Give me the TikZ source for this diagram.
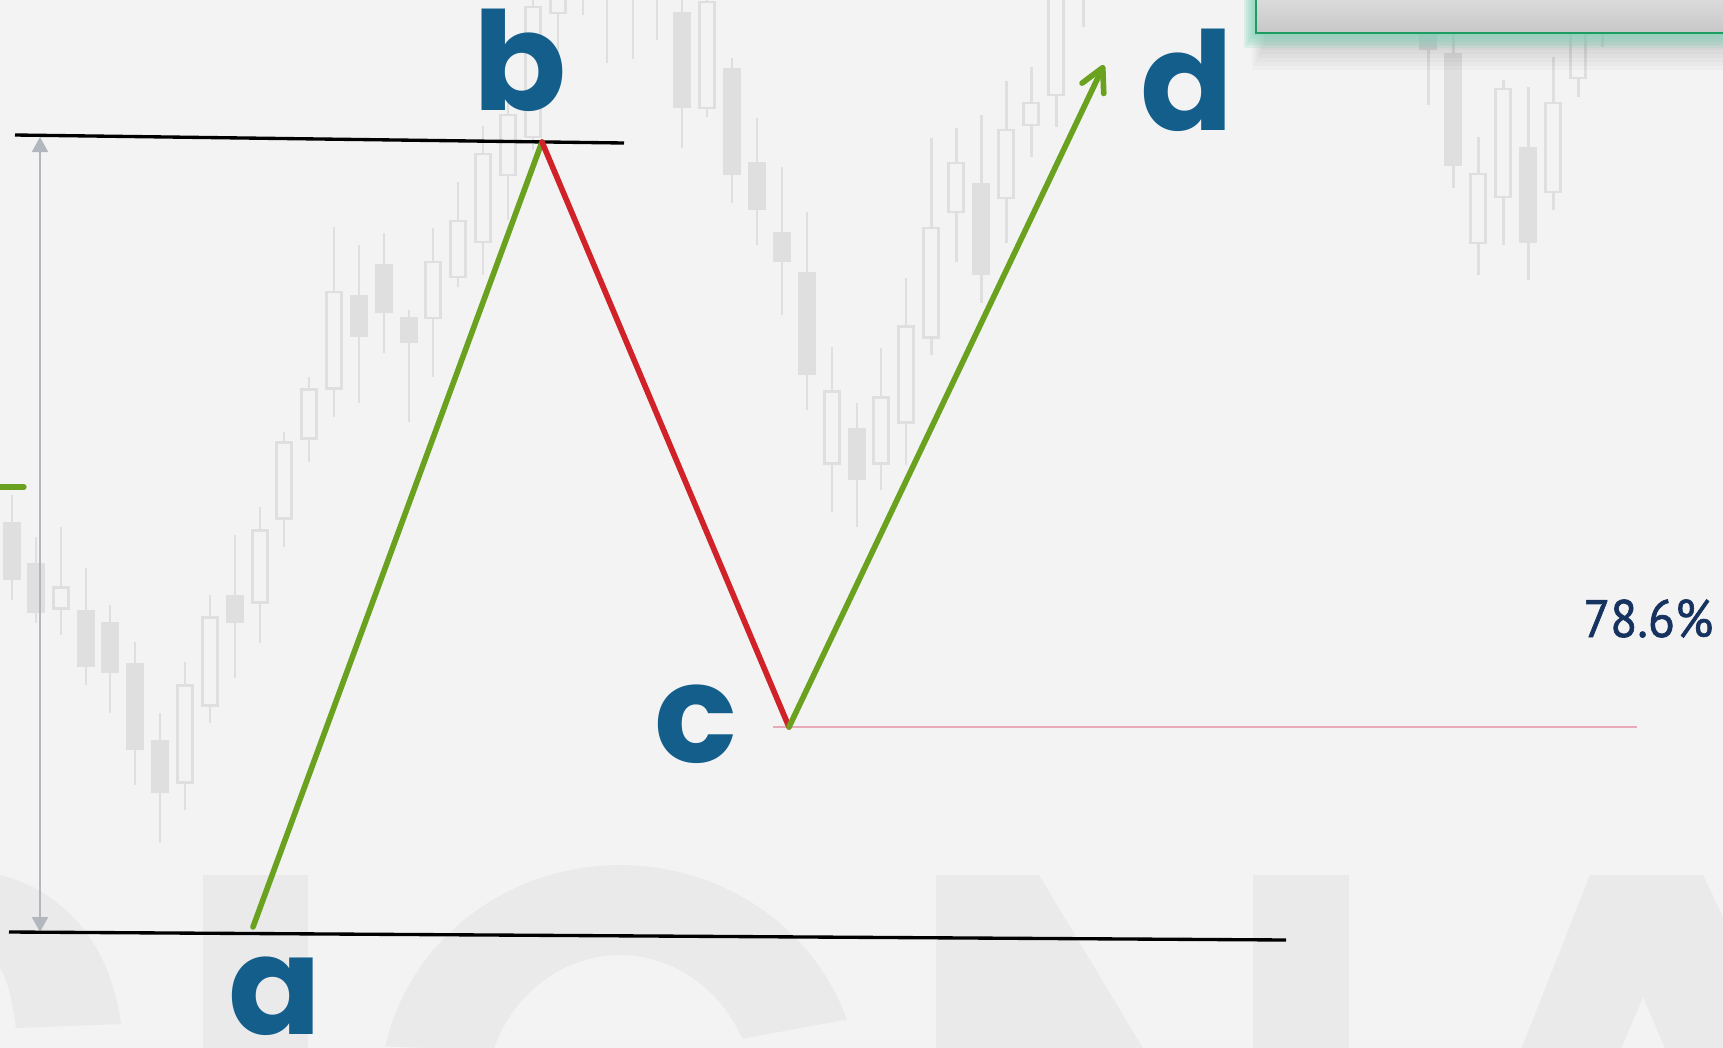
\documentclass[tikz,border=0pt]{standalone}
\usepackage{fontspec}
\usepackage{xcolor}
\usepackage{tikz}
\usetikzlibrary{arrows.meta,positioning}
\newfontfamily\legfont{Poppins}
\newfontfamily\pctfont{PT Sans}[FakeBold=1.2, FakeStretch=0.94]
\definecolor{bg}{RGB}{243,243,243}
\definecolor{wmark}{RGB}{234,234,234}
\definecolor{candle}{RGB}{223,223,223}
\definecolor{legblue}{RGB}{20,94,140}
\definecolor{upgreen}{RGB}{106,162,32}
\definecolor{downred}{RGB}{208,34,40}
\definecolor{lvlpink}{RGB}{232,170,185}
\definecolor{rulegrey}{RGB}{178,183,190}
\definecolor{pctblue}{RGB}{22,50,95}
\definecolor{boxgreen}{RGB}{28,158,98}
\definecolor{glow}{RGB}{128,212,186}

\begin{document}
\begin{tikzpicture}[x=0.01cm, y=-0.01cm,
      wm/.style={fill=wmark},
      wick/.style={draw=candle, line width=0.85pt},
      openbody/.style={draw=candle, fill=bg, line width=0.85pt},
      lvl/.style={draw=black, line width=0.95pt},
      leg/.style={line width=1.6pt, line cap=round},
      measure/.style={draw=rulegrey, line width=0.6pt,
                      {Triangle[length=1.5mm,width=1.6mm]}-{Triangle[length=1.5mm,width=1.6mm]}},
      lbl/.style={font=\legfont\bfseries\fontsize{39}{40}\selectfont, text=legblue,
                  inner sep=0pt, anchor=base},
      pct/.style={font=\pctfont\fontsize{15}{16}\selectfont, text=pctblue, inner sep=0pt}
    ]
    \useasboundingbox (0,0) rectangle (1723,1048);
    \clip (0,0) rectangle (1723,1048);
    \fill[bg] (0,0) rectangle (1723,1048);

    % watermark letters
    \fill[wm] (0,875) .. controls (60,890) and (110,940) .. (121,1024) -- (16,1028)
              .. controls (12,1000) and (8,980) .. (0,968) -- cycle;
    \fill[wm] (203,875) rectangle (308,1060);
    \fill[wm] plot[domain=168:19, samples=40] ({620+240*cos(\x)},{1094-229*sin(\x)})
              -- plot[domain=25:160, samples=40] ({620+135*cos(\x)},{1100-145*sin(\x)}) -- cycle;
    \fill[wm] (936,1060) -- (936,875) -- (1039,875) -- (1150,1060) -- cycle;
    \fill[wm] (1253,875) rectangle (1349,1060);
    \fill[wm] (1517,1060) -- (1590,875) -- (1703,875) -- (1791,1060) -- (1670,1060)
              -- (1643,997) -- (1616,1060) -- cycle;

    % candles: x / wick top / wick bottom / body top / body bottom / filled
    \foreach \x/\wt/\wb/\bt/\bb/\f in {
        12/495/600/522/580/1, 36/537/623/563/613/1, 61/527/635/587/608/0,
        86/568/685/610/667/1, 110/605/713/622/673/1, 135/642/785/663/750/1,
        160/713/843/740/793/1, 185/662/810/685/782/0, 210/595/723/617/705/0,
        235/535/678/595/623/1, 260/507/643/530/602/0, 284/432/547/442/518/0,
        309/377/462/389/438/0, 334/227/417/292/388/0, 359/245/403/295/337/1,
        384/233/353/264/313/1, 409/310/422/317/343/1, 433/228/377/262/318/0,
        458/182/287/221/277/0, 483/126/275/154/242/0, 508/99/220/115/175/0,
        533/-20/150/7/137/0, 558/-20/60/-20/13/0, 583/-20/15/-40/-20/0,
        607/-20/63/-40/-20/0, 633/-20/59/-40/-20/0, 657/-20/40/-40/-20/0,
        682/-20/148/12/108/1, 707/-20/117/2/108/0, 732/58/203/68/175/1,
        757/118/245/162/210/1, 782/167/315/232/262/1, 807/212/410/272/375/1,
        832/347/512/391/463/0, 857/403/527/428/480/1, 881/348/490/397/463/0,
        906/278/465/326/422/0, 931/138/355/228/337/0, 956/128/262/163/212/0,
        981/115/303/183/275/1, 1006/81/243/130/198/0, 1031/67/157/103/125/0,
        1056/-20/127/-20/95/0, 1083/-20/27/-40/-20/0,
        1428/-20/105/-20/50/1, 1453/30/188/53/166/1, 1478/137/275/174/243/0,
        1503/80/245/89/197/0, 1528/87/280/147/243/1, 1553/57/210/103/192/0,
        1578/-20/97/-20/78/0, 1602/-20/47/-40/-20/0}{
      \draw[wick] (\x,\wt) -- (\x,\wb);
      \ifnum\f=1
        \fill[candle] (\x-9,\bt) rectangle (\x+9,\bb);
      \else
        \draw[openbody] (\x-7.5,\bt) rectangle (\x+7.5,\bb);
      \fi
    }

    % box at top right, soft shadow and glow
    \foreach \s in {0,...,7}
      \fill[black, opacity=0.018] (1252+\s*2,-10) rectangle (1730,70-\s*4);
    \foreach \s in {0,...,4}
      \fill[glow, opacity=0.2] (1244+\s*2,-10) rectangle (1730,48-\s*3);
    \shade[top color=black!12, bottom color=black!22] (1256,-10) rectangle (1730,33);
    \draw[boxgreen, line width=0.55pt] (1256,-10) |- (1730,33);

    % left fragment
    \draw[upgreen, line width=1.5pt, line cap=round] (-5,487) -- (24,487);

    \coordinate (a) at (253,927);
    \coordinate (b) at (542,142);
    \coordinate (c) at (789,727);
    \coordinate (d) at (1104,65);
    \coordinate (topL) at (15,135);
    \coordinate (topR) at (624,143);
    \coordinate (botL) at (9,932);
    \coordinate (botR) at (1286,940);
    \coordinate (hi) at (40,137);
    \coordinate (lo) at (40,932);
    \coordinate (cL) at (773,727);
    \coordinate (cR) at (1637,727);

    \draw[lvlpink, line width=0.45pt] (cL) -- (cR);
    \draw[measure] (lo) -- (hi);
    \draw[lvl] (topL) -- (topR);
    \draw[lvl] (botL) -- (botR);
    \draw[leg, upgreen] (a) -- (b);
    \draw[leg, downred] (b) -- (c);
    \draw[leg, upgreen, -{Straight Barb[length=2.3mm, width=2.4mm, round]}] (c) -- (d);

    \node[lbl] (la) at (275,1034) {a};
    \node[lbl] (lb) at (520,110)  {b};
    \node[lbl] (lc) at (696,762)  {c};
    \node[lbl] (ld) at (1187,130) {d};
    \node[pct, anchor=base east] (fib) at (1714,637) {78.6\%};
  \end{tikzpicture}
\end{document}
